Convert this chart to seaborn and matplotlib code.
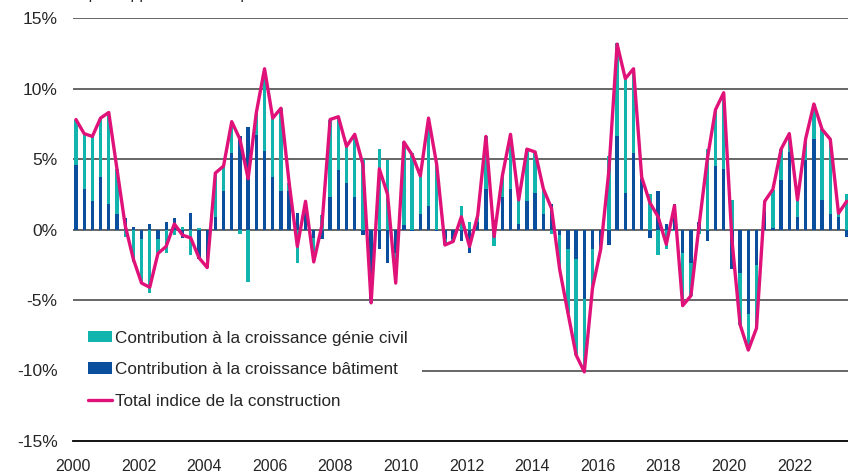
import numpy as np
import matplotlib
matplotlib.use("Agg")
import matplotlib.pyplot as plt
from matplotlib.patches import Patch
from matplotlib.lines import Line2D
import seaborn as sns

# quarterly contributions, 2000 Q1 .. 2023 Q3 (in %)
batiment = [
    4.6, 2.9, 2.0, 3.7,   1.8, 1.1, 0.8, 0.2,   -0.7, 0.4, -0.7, 0.5,
    0.8, -0.6, 1.2, -2.1,  -2.1, 0.9, 2.7, 5.4,  6.6, 7.3, 6.7, 5.6,
    3.7, 2.7, 2.7, 1.2,   2.0, -0.6, -0.7, 2.3,  4.2, 3.3, 2.3, -0.4,
    -5.0, -1.4, -2.4, -1.7,  0.3, -0.1, 1.1, 1.7,  -0.1, -0.7, -0.7, -0.8,
    -1.7, 0.5, 2.9, 0.7,  2.3, 2.9, 0.4, 2.0,  2.6, 1.1, 1.8, -0.4,
    -1.4, -2.1, -4.9, -1.4,  -1.2, -1.1, 6.6, 2.6,  5.4, 3.6, -0.6, 2.7,
    0.4, 1.8, -1.7, -2.4,  0.5, -0.8, 4.5, 4.3,  -2.8, -3.1, -6.0, -2.5,
    1.3, 0.1, 3.5, 5.5,  0.9, 4.9, 6.4, 2.1,  1.1, 0.9, -0.5,
]
genie_civil = [
    3.2, 3.9, 4.6, 4.2,   6.5, 3.2, -0.5, -2.3,  -3.1, -4.5, -1.0, -1.7,
    -0.4, 0.2, -1.8, 0.1,  -0.6, 3.1, 1.8, 2.2,  -0.3, -3.7, 1.6, 5.8,
    4.2, 5.9, 0.6, -2.4,  0.0, -1.7, 1.0, 5.5,  3.8, 2.6, 4.5, 5.0,
    -0.2, 5.7, 4.9, -2.1,  5.9, 5.4, 2.7, 6.2,  4.7, -0.4, -0.2, 1.7,
    0.5, 0.5, 3.7, -1.2,  1.5, 3.9, 1.7, 3.7,  2.9, 1.8, -0.3, -2.5,
    -4.5, -6.8, -5.2, -2.7,  -0.2, 5.2, 6.6, 8.1,  6.0, 0.1, 2.5, -1.8,
    -1.4, -0.1, -3.7, -2.3,  -0.3, 5.7, 4.0, 5.4,  2.1, -3.7, -2.5, -4.5,
    0.7, 2.7, 2.2, 1.3,  1.2, 1.55, 2.5, 5.0,  5.3, 0.2, 2.5,
]
total = [
    7.8, 6.8, 6.6, 7.9,   8.3, 4.3, 0.3, -2.1,  -3.8, -4.1, -1.7, -1.2,
    0.4, -0.4, -0.6, -2.0,  -2.7, 4.0, 4.5, 7.65,  6.4, 3.6, 8.3, 11.4,
    7.9, 8.6, 3.3, -1.2,  2.0, -2.3, 0.3, 7.8,  8.0, 5.9, 6.75, 4.6,
    -5.2, 4.3, 2.5, -3.8,  6.2, 5.3, 3.8, 7.9,  4.6, -1.1, -0.85, 0.9,
    -1.2, 1.0, 6.6, -0.5,  3.8, 6.75, 2.1, 5.7,  5.5, 2.9, 1.5, -2.85,
    -5.9, -8.9, -10.1, -4.15,  -1.4, 4.2, 13.15, 10.7,  11.4, 3.7, 1.9, 0.9,
    -1.05, 1.7, -5.4, -4.7,  0.3, 5.0, 8.5, 9.7,  -0.7, -6.75, -8.55, -7.0,
    2.0, 2.85, 5.7, 6.8,  2.1, 6.45, 8.9, 7.1,  6.4, 1.15, 2.0,
]
year_labels = ["2000", "2002", "2004", "2006", "2008", "2010",
               "2012", "2014", "2016", "2018", "2020", "2022"]

teal = "#12b5ad"
blue = "#0a4f9e"
magenta = "#e0127a"

sns.set_style("white")
plt.rcParams["font.family"] = ["Liberation Sans", "DejaVu Sans"]
plt.rcParams["font.size"] = 12

b = np.array(batiment)
g = np.array(genie_civil)
x = 2000 + np.arange(len(b)) * 0.25 + 0.09
g_bottom = np.where(np.sign(g) == np.sign(b), b, 0)

fig = plt.figure(figsize=(8.48, 4.76), dpi=100)
ax = fig.add_axes([73 / 848, 35 / 476, 1 - 73 / 848, 423 / 476])

# gridlines
for yv in [15, 10, 5, 0, -5, -10]:
    ax.axhline(yv, color="#5a5a5a", lw=1.3, zorder=0)

ax.bar(x, b, width=0.1, color=blue, zorder=2, linewidth=0)
ax.bar(x, g, width=0.1, bottom=g_bottom, color=teal, zorder=2, linewidth=0)
sns.lineplot(x=x, y=total, ax=ax, color=magenta, lw=2.4, zorder=3)

ax.set_xlim(2000, 2023.63)
ax.set_ylim(-15, 15)
ax.set_yticks(range(-15, 16, 5))
ax.set_yticklabels([f"{v}%" for v in range(-15, 16, 5)], fontsize=12.5)
ax.set_xticks(range(2000, 2024))
ax.set_xticklabels([str(y) if str(y) in year_labels else "" for y in range(2000, 2024)],
                   fontsize=11.5)

for s in ["left", "right", "top"]:
    ax.spines[s].set_visible(False)
ax.spines["bottom"].set_color("black")
ax.spines["bottom"].set_linewidth(1.3)
ax.tick_params(axis="x", direction="out", length=5, width=1, color="black", pad=8)
ax.tick_params(axis="y", length=0, pad=11)

handles = [
    Patch(facecolor=teal, edgecolor="none"),
    Patch(facecolor=blue, edgecolor="none"),
    Line2D([0], [0], color=magenta, lw=2.4),
]
labels = [
    "Contribution à la croissance génie civil",
    "Contribution à la croissance bâtiment",
    "Total indice de la construction",
]
leg = fig.legend(handles, labels, loc="upper left",
                 bbox_to_anchor=(73 / 848, 1 - 316 / 476),
                 frameon=True, facecolor="white", edgecolor="none", framealpha=1,
                 fancybox=False, borderpad=0.85, borderaxespad=0,
                 handlelength=1.45, handleheight=0.65, handletextpad=0.15,
                 labelspacing=0.97, fontsize=12.3)
leg.set_zorder(5)

fig.text(22 / 848, 1 + 1 / 476, "Variation par rapport à l'année précédente",
         ha="left", va="baseline", fontsize=11.5)

fig.savefig("out.png", dpi=100)
